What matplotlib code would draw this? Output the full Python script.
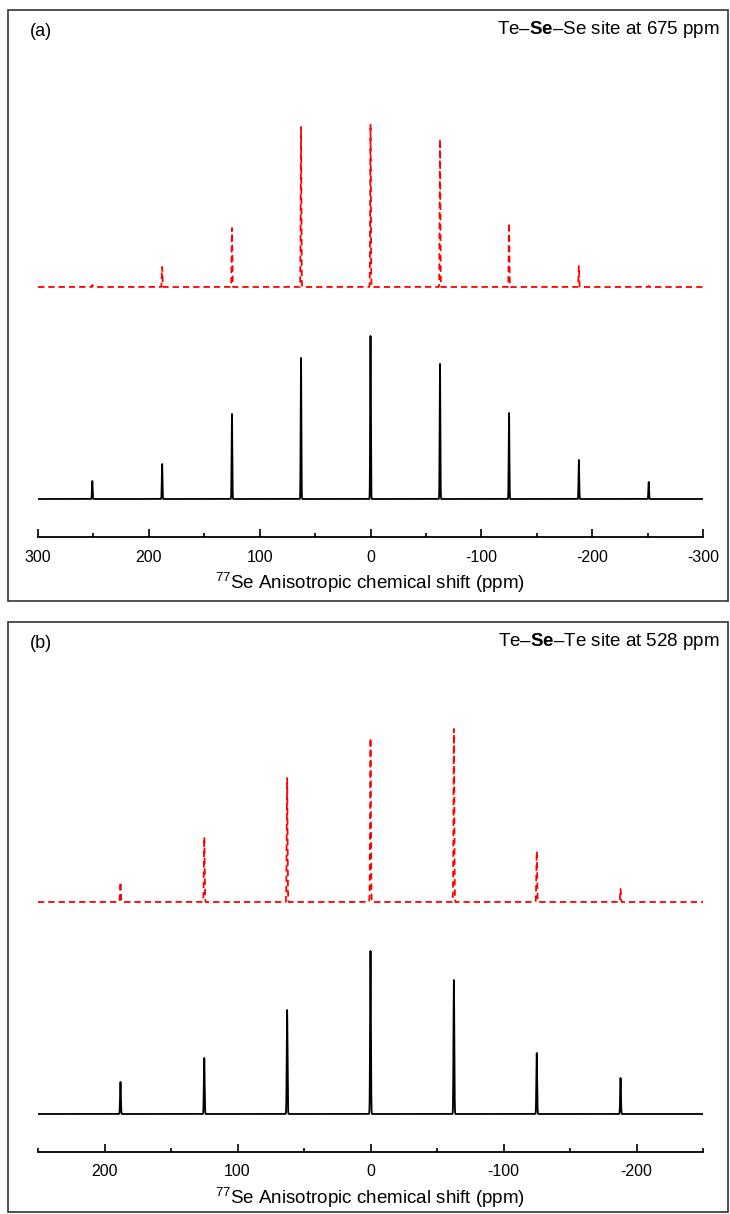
import numpy as np
import matplotlib
matplotlib.use('Agg')
import matplotlib.pyplot as plt
from matplotlib.patches import Rectangle

plt.rcParams['font.family'] = 'Liberation Sans'
plt.rcParams['mathtext.fontset'] = 'custom'
plt.rcParams['mathtext.rm'] = 'Liberation Sans'
plt.rcParams['mathtext.bf'] = 'Liberation Sans:bold'
plt.rcParams['axes.unicode_minus'] = False

## data: spinning sideband positions (ppm) and intensities (a.u.)
##---------------------------
sidebands_a = [251, 188, 125, 62.7, 0, -62.7, -125, -188, -251]
exp_a = [18, 35, 85, 141, 163, 135, 86, 39, 17]      # black, solid
sim_a = [2, 20, 59, 160, 163, 148, 64, 21, 1]         # red, dashed

sidebands_b = [188, 125, 62.7, 0, -62.7, -125, -188]
exp_b = [32, 56, 104, 163, 134, 61, 36]
sim_b = [20, 65, 124, 164, 173, 51, 13]

xlim_a = (300, -300)
xticks_a = [300, 200, 100, 0, -100, -200, -300]
xlim_b = (250, -250)
xticks_b = [200, 100, 0, -100, -200]

W, H = 730, 1214
fig = plt.figure(figsize=(W / 100, H / 100), dpi=100)


def spectrum(x, pos, amp, width=0.3):
    y = np.zeros_like(x)
    for p, a in zip(pos, amp):
        y += a * np.exp(-0.5 * ((x - p) / width) ** 2)
    return y


def panel(axis_px, box_top, box_bot, xlim, xticks, pos, exp, sim, letter, title):
    # frame round the panel
    fig.patches.append(Rectangle((8 / W, 1 - box_bot / H), 720 / W, (box_bot - box_top) / H,
                                 transform=fig.transFigure, fill=False,
                                 edgecolor='#333333', linewidth=1.2))
    ax = fig.add_axes([38 / W, 1 - axis_px / H, 665 / W, 425 / H])
    x = np.linspace(xlim[0], xlim[1], 40001)
    ax.plot(x, spectrum(x, pos, exp), color='black', lw=1.3)
    ax.plot(x, spectrum(x, pos, sim) + 212, color='red', lw=1.3, linestyle=(0, (3.5, 2.2)))
    ax.set_xlim(xlim)
    ax.set_ylim(-38, 387)
    ax.set_xticks(xticks)
    ax.set_xticks(np.arange(xlim[1], xlim[0] + 1, 50), minor=True)
    ax.tick_params(axis='x', which='major', direction='in', length=6, width=1.2,
                   labelsize=11.5, pad=9)
    ax.tick_params(axis='x', which='minor', direction='in', length=3, width=1.2)
    ax.set_yticks([])
    for s in ['left', 'right', 'top']:
        ax.spines[s].set_visible(False)
    ax.spines['bottom'].set_linewidth(1.3)
    ax.set_xlabel(r'$^{77}$Se Anisotropic chemical shift (ppm)', fontsize=13.5, labelpad=4)
    fig.text(30 / W, 1 - (box_top + 21) / H, letter, fontsize=13, va='center', ha='left')
    fig.text(720 / W, 1 - (box_top + 20) / H, title, fontsize=13.5, va='center', ha='right')


panel(537, 10, 601, xlim_a, xticks_a, sidebands_a, exp_a, sim_a,
      '(a)', r'Te–$\mathbf{Se}$–Se site at 675 ppm')
panel(1152, 622, 1212, xlim_b, xticks_b, sidebands_b, exp_b, sim_b,
      '(b)', r'Te–$\mathbf{Se}$–Te site at 528 ppm')

fig.savefig('out.png', dpi=100)
